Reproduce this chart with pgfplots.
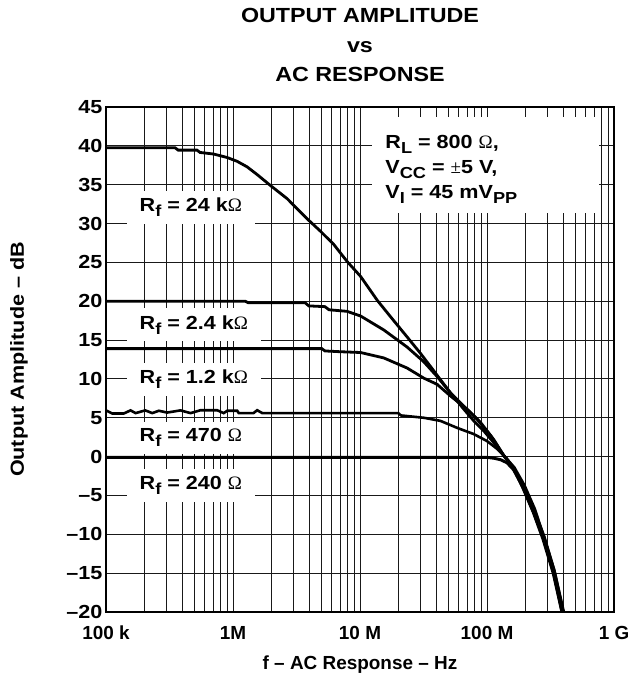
\documentclass[border=0pt]{standalone}
\usepackage{pgfplots}
\pgfplotsset{compat=1.18}
\usepackage{fontspec}
\setmainfont{Liberation Sans}[FakeStretch=1.14]
\newfontfamily\plainsans{Liberation Sans}
\newfontfamily\symb{Liberation Serif}
\newcommand\fs{\fontsize{19}{22}\selectfont\bfseries}
\newcommand\fx{\plainsans\fontsize{19}{22}\selectfont\bfseries}
\newcommand\ft{\fontsize{20.5}{24}\selectfont\bfseries}
\newcommand\sub[1]{\raisebox{-5bp}{\fontsize{16}{16}\selectfont #1}}
\newcommand\Om{{\symb\mdseries Ω}}
\begin{document}
\begin{tikzpicture}
\begin{axis}[
  scale only axis, width=508bp, height=505bp,
  xmode=log, xmin=1e5, xmax=1e9, ymin=-20, ymax=45,
  xtick={1e5,1e6,1e7,1e8,1e9},
  xticklabels={100 k,1M,10 M,100 M,1 G},
  minor xtick={2e5,3e5,4e5,5e5,6e5,7e5,8e5,9e5,2e6,3e6,4e6,5e6,6e6,7e6,8e6,9e6,2e7,3e7,4e7,5e7,6e7,7e7,8e7,9e7,2e8,3e8,4e8,5e8,6e8,7e8,8e8,9e8},
  ytick={-20,-15,-10,-5,0,5,10,15,20,25,30,35,40,45},
  yticklabels={\textendash20,\textendash15,\textendash10,\textendash5,0,5,10,15,20,25,30,35,40,45},
  grid=both,
  major grid style={black!90, line width=1bp},
  minor grid style={black!90, line width=1bp},
  major tick length=0pt, minor tick length=0pt,
  axis line style={line width=2bp},
  yticklabel style={font=\fs, anchor=east},
  xticklabel style={font=\fx, anchor=base, yshift=-27bp},
  /pgf/number format/assume math mode=true,
  clip=true,
]
\coordinate (tm) at (rel axis cs:0.5,1);
\coordinate (bm) at (rel axis cs:0.5,0);
\coordinate (lm) at (rel axis cs:0,0.5);
\coordinate (ll) at (rel axis cs:0,0);
\coordinate (ur) at (rel axis cs:1,1);

\fill[white] (axis cs:1.25e7,43.7) rectangle (axis cs:7.55e8,31.3);
\node[anchor=base west, font=\fs, inner sep=0pt] at (axis cs:1.58e7,39.68) {R\sub{L} = 800 \Om,};
\node[anchor=base west, font=\fs, inner sep=0pt] at (axis cs:1.58e7,36.46) {V\sub{CC} = {\symb\mdseries ±}5 V,};
\node[anchor=base west, font=\fs, inner sep=0pt] at (axis cs:1.58e7,33.24) {V\sub{I} = 45 mV\sub{PP}};

\tikzset{lbl/.style={anchor=base west, fill=white, inner xsep=13bp, inner ysep=7bp, font=\fs}}
\node[lbl] at (axis cs:1.45e5,31.5) {R\sub{f} = 24 k\Om};
\node[lbl] at (axis cs:1.45e5,16.4) {R\sub{f} = 2.4 k\Om};
\node[lbl] at (axis cs:1.45e5,9.4) {R\sub{f} = 1.2 k\Om};
\node[lbl] at (axis cs:1.45e5,1.9) {R\sub{f} = 470 \Om};
\node[lbl] at (axis cs:1.45e5,-4.25) {R\sub{f} = 240 \Om};

% Rf = 24 k
\addplot[black, line width=2.8bp] coordinates {
(1e5,39.75) (3.5e5,39.75) (3.7e5,39.45) (5.2e5,39.45) (5.5e5,39.15) (7e5,38.95) (9e5,38.5) (1.08e6,38.0) (1.29e6,37.3) (1.55e6,36.3) (1.97e6,34.9) (2.67e6,33.2) (3.84e6,30.6) (4.89e6,29.0) (6.22e6,27.3) (7.93e6,25.1) (1.01e7,23.2) (1.37e7,20.1) (1.74e7,18.0) (2.35e7,15.4) (2.99e7,13.3) (3.59e7,11.6) (4.3e7,9.9) (5.16e7,8.2) (6.57e7,6.1) (7.87e7,4.6) (9.44e7,3.3) (1.13e8,1.8) (1.36e8,0.1) (1.64e8,-1.4) (1.97e8,-3.7) (2.37e8,-6.7) (2.83e8,-10.5) (3.4e8,-14.8) (4.02e8,-20)
};
% Rf = 2.4 k
\addplot[black, line width=2.8bp] coordinates {
(1e5,20.0) (1.25e6,20.0) (1.32e6,19.8) (3.7e6,19.8) (3.95e6,19.4) (5.3e6,19.3) (5.7e6,18.9) (7.9e6,18.7) (1.01e7,18.1) (1.54e7,16.3) (2.35e7,14.1) (3.18e7,12.2) (4.05e7,10.3) (5.16e7,8.2) (6.57e7,6.5) (8.37e7,4.8) (1.07e8,2.7) (1.36e8,0.1) (1.63e8,-1.5) (1.96e8,-3.9) (2.35e8,-6.9) (2.82e8,-10.3) (3.38e8,-14.6) (3.99e8,-20)
};
% Rf = 1.2 k
\addplot[black, line width=2.8bp] coordinates {
(1e5,13.9) (5.0e6,13.9) (5.3e6,13.6) (7.0e6,13.5) (1.01e7,13.4) (1.54e7,12.7) (2.35e7,11.4) (3.18e7,10.1) (4.05e7,9.3) (5.16e7,7.8) (6.98e7,6.1) (8.89e7,4.4) (1.13e8,2.2) (1.36e8,0.1) (1.62e8,-1.6) (1.94e8,-4.0) (2.33e8,-7.0) (2.79e8,-10.6) (3.34e8,-14.9) (3.93e8,-20)
};
% Rf = 470
\addplot[black, line width=2.6bp] coordinates {
(1e5,5.95) (1.12e5,5.55) (1.38e5,5.55) (1.56e5,5.95) (1.71e5,5.6) (2.04e5,5.95) (2.31e5,5.6) (2.61e5,5.9) (3.03e5,5.67) (3.86e5,5.95) (4.63e5,5.6) (5.55e5,5.97) (7.5e5,5.97) (8.45e5,5.6) (9.0e5,5.9) (1.08e6,5.9) (1.11e6,5.6) (1.45e6,5.6) (1.55e6,5.97) (1.7e6,5.6) (2.0e7,5.6) (2.1e7,5.3) (3.18e7,5.0) (4.3e7,4.6) (5.82e7,3.7) (7.87e7,2.9) (1.0e8,2.0) (1.2e8,1.0) (1.44e8,-0.3) (1.62e8,-1.5) (1.93e8,-4.2) (2.31e8,-7.2) (2.76e8,-10.7) (3.31e8,-15.0) (3.88e8,-20)
};
% Rf = 240
\addplot[black, line width=3bp] coordinates {
(1e5,-0.1) (1.0e8,-0.1) (1.13e8,-0.2) (1.28e8,-0.4) (1.44e8,-0.8) (1.62e8,-1.7) (1.94e8,-4.1) (2.32e8,-7.1) (2.78e8,-10.5) (3.33e8,-14.8) (3.9e8,-20)
};
\end{axis}
\node[anchor=base, font=\ft] at ([yshift=84bp]tm) {OUTPUT AMPLITUDE};
\node[anchor=base, font=\ft] at ([yshift=54bp]tm) {vs};
\node[anchor=base, font=\ft] at ([yshift=25bp]tm) {AC RESPONSE};
\node[anchor=base, font=\fx] at ([yshift=-57bp]bm) {f \textendash{} AC Response \textendash{} Hz};
\node[rotate=90, anchor=center, font=\fs] at ([xshift=-87bp]lm) {Output Amplitude \textendash{} dB};
\pgfresetboundingbox
\path[use as bounding box] ([shift={(-106bp,-67bp)}]ll) rectangle ([shift={(14bp,107bp)}]ur);
\end{tikzpicture}
\end{document}
